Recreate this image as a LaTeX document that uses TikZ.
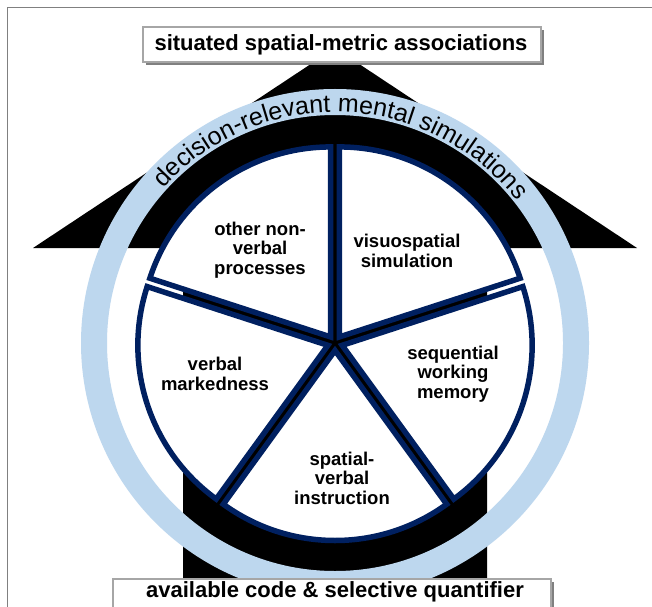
\documentclass[tikz,border=0pt]{standalone}
\usepackage{fontspec}
\setmainfont{Liberation Sans}
\usetikzlibrary{decorations.text,shadows}
\definecolor{navy}{RGB}{0,32,96}
\definecolor{ringblue}{RGB}{189,215,238}
\definecolor{framegray}{RGB}{128,128,128}
\definecolor{boxgray}{RGB}{166,166,166}
\tikzset{
  wedgebox/.style={draw=navy, line width=5.5pt, fill=white, line join=miter},
  lbl/.style={font=\bfseries\fontsize{18.5}{19.5}\selectfont, align=center, text=black, inner sep=0pt},
  boxtxt/.style={font=\bfseries\fontsize{22}{26}\selectfont, text=black, inner sep=0pt},
  framebox/.style={draw=boxgray, line width=1.5pt, fill=white,
    drop shadow={shadow xshift=3pt, shadow yshift=-3pt, fill=framegray, opacity=1}},
}
\begin{document}
\begin{tikzpicture}[x=1pt,y=1pt]
\clip (0,0) rectangle (652,606);
\fill[white] (0,0) rectangle (652,606);
% frame
\draw[framegray, line width=1.5pt] (7.5,-5) -- (7.5,598.5) -- (660,598.5);
% arrow
\fill[black] (33,358) -- (335,558) -- (637,358) -- (487,358) -- (487,-10) -- (183,-10) -- (183,358) -- cycle;
\coordinate (C) at (335,263);
% ring
\draw[ringblue, line width=26pt] (C) circle[radius=241pt];
% wedges
\foreach \b in {54,-18,-90,198,126}{
  \draw[wedgebox] ([shift={(\b:7.5pt)}]C) -- ++(\b-36:190pt)
    arc[start angle=\b-36, end angle=\b+36, radius=190pt] -- cycle;
}
% labels
\node[lbl] (other) at (260,356) {other non-\\verbal\\processes};
\node[lbl] (visuo) at (407,355) {visuospatial\\simulation};
\node[lbl] (verbal) at (215,232) {verbal\\markedness};
\node[lbl] (seq) at (453,232) {sequential\\working\\memory};
\node[lbl] (spat) at (342,128) {spatial-\\verbal\\instruction};
% curved text
\path[decorate, decoration={text along path, text align=center,
  text={|\fontsize{25}{30}\selectfont|decision-relevant mental simulations}}]
  ([shift={(178:231pt)}]C) arc[start angle=178, end angle=-2, radius=231pt];
% top box
\node[framebox, minimum width=398pt, minimum height=35pt, inner sep=0pt] (topbox) at (342,561.5) {};
\node[boxtxt] (toplabel) at (341,561.5) {situated spatial-metric associations};
% bottom box
\node[framebox, minimum width=438pt, minimum height=50pt, inner sep=0pt, anchor=north] (botbox) at (332,28) {};
\node[boxtxt] (botlabel) at (335,14) {available code \& selective quantifier};
\end{tikzpicture}
\end{document}
